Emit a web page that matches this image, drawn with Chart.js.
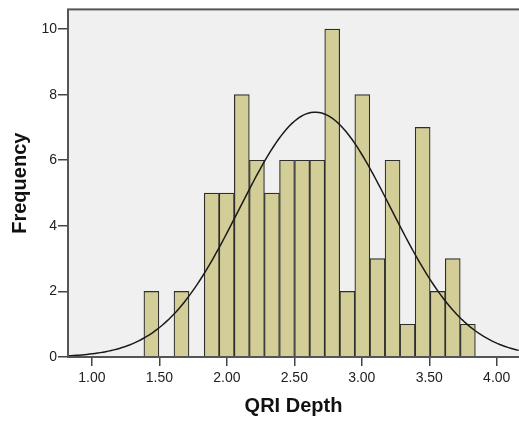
<!DOCTYPE html>
<html>
<head>
<meta charset="utf-8">
<script src="https://cdn.jsdelivr.net/npm/chart.js@4"></script>
<style>
    html, body { margin: 0; padding: 0; background: #ffffff; }
    #wrap { width: 519px; height: 425px; }
</style>
</head>
<body>
<div id="wrap"><canvas id="histChart" width="519" height="425"></canvas></div>
<script>
// bin centres (QRI Depth) and counts
const binCenters = [1.441, 1.553, 1.664, 1.776, 1.888, 1.999, 2.111, 2.223, 2.334, 2.446, 2.558,
    2.670, 2.781, 2.893, 3.004, 3.116, 3.228, 3.339, 3.451, 3.563, 3.674, 3.786];
const binCounts = [2, 0, 2, 0, 5, 5, 8, 6, 5, 6, 6, 6, 10, 2, 8, 3, 6, 1, 7, 2, 3, 1];
const binWidth = 0.1117;

// fitted normal curve
const curveMean = 2.655;
const curveSd = 0.561;
const totalN = binCounts.reduce((a, b) => a + b, 0);

const xTicks = [1.0, 1.5, 2.0, 2.5, 3.0, 3.5, 4.0];
const yTicks = [0, 2, 4, 6, 8, 10];
const xMin = 0.823;
const xMax = 4.165;

const curvePoints = [];
for (let x = xMin; x <= xMax + 1e-9; x += 0.02) {
    const z = (x - curveMean) / curveSd;
    const y = totalN * binWidth / (curveSd * Math.sqrt(2 * Math.PI)) * Math.exp(-0.5 * z * z);
    curvePoints.push({ x, y });
}

const plotFrame = {
    id: 'plotFrame',
    beforeDatasetsDraw(chart) {
        const { ctx, chartArea } = chart;
        ctx.save();
        ctx.fillStyle = '#f0f0f0';
        ctx.fillRect(chartArea.left, chartArea.top, chartArea.right - chartArea.left, chartArea.bottom - chartArea.top);
        ctx.restore();
    },
    afterDraw(chart) {
        const { ctx, chartArea } = chart;
        ctx.save();
        ctx.strokeStyle = '#555555';
        ctx.lineWidth = 2;
        ctx.strokeRect(chartArea.left, chartArea.top, chartArea.right - chartArea.left + 4, chartArea.bottom - chartArea.top);
        ctx.restore();
    },
};

const tickFont = { family: '"Liberation Sans", Arial, sans-serif', size: 14 };
const titleFont = { family: '"Liberation Sans", Arial, sans-serif', size: 20, weight: 'bold' };

new Chart(document.getElementById('histChart'), {
    type: 'bar',
    data: {
        datasets: [
            {
                type: 'line',
                data: curvePoints,
                borderColor: '#1a1a1a',
                borderWidth: 1.5,
                pointRadius: 0,
                tension: 0,
                fill: false,
                order: 0,
            },
            {
                type: 'bar',
                data: binCenters.map((x, i) => ({ x, y: binCounts[i] })),
                backgroundColor: '#d3ce97',
                borderColor: '#2e2e2e',
                borderWidth: 1.2,
                borderSkipped: 'bottom',
                barPercentage: 1,
                categoryPercentage: 1,
                order: 1,
            },
        ],
    },
    options: {
        responsive: false,
        animation: false,
        layout: { padding: { top: 7, right: 0, left: 0, bottom: 0 } },
        plugins: {
            legend: { display: false },
            tooltip: { enabled: false },
        },
        scales: {
            x: {
                type: 'linear',
                min: xMin,
                max: xMax,
                offset: false,
                afterBuildTicks: (scale) => { scale.ticks = xTicks.map((v) => ({ value: v })); },
                afterFit: (scale) => { scale.height = 68; },
                border: { display: false },
                grid: { offset: false, drawOnChartArea: false, drawTicks: true, tickLength: 9, color: '#444', lineWidth: 1.5 },
                ticks: {
                    color: '#222',
                    font: tickFont,
                    padding: 4,
                    maxRotation: 0,
                    callback: (v) => Number(v).toFixed(2),
                },
                title: { display: true, text: 'QRI Depth', color: '#111', font: titleFont, padding: { top: 0, bottom: 7 } },
            },
            y: {
                min: 0,
                max: 10.6,
                afterBuildTicks: (scale) => { scale.ticks = yTicks.map((v) => ({ value: v })); },
                afterFit: (scale) => { scale.width = 68; },
                border: { display: false },
                grid: { drawOnChartArea: false, drawTicks: true, tickLength: 10, color: '#444', lineWidth: 1.5 },
                ticks: { color: '#222', font: tickFont, padding: 1 },
                title: { display: true, text: 'Frequency', color: '#111', font: titleFont, padding: { top: 8, bottom: 0 } },
            },
        },
    },
    plugins: [plotFrame],
});
</script>
</body>
</html>
